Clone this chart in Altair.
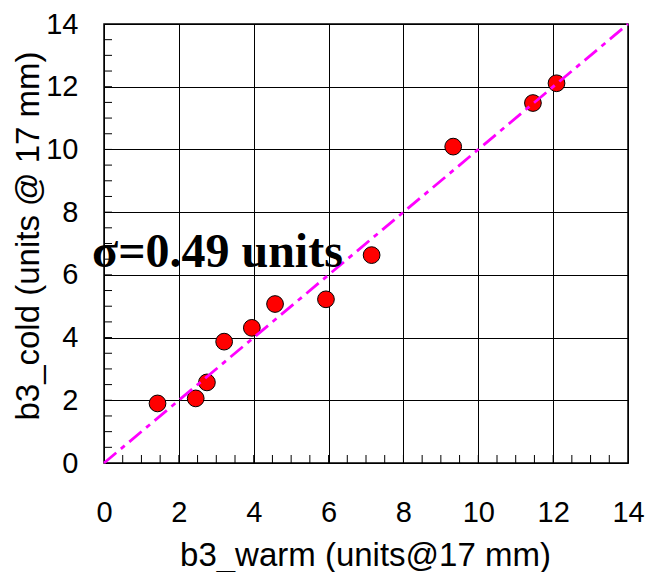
import altair as alt
import pandas as pd

# measured data
b3_warm = [1.43, 2.45, 2.75, 3.21, 3.95, 4.57, 5.93, 7.15, 9.33, 11.46, 12.09]
b3_cold = [1.90, 2.06, 2.57, 3.87, 4.31, 5.07, 5.22, 6.63, 10.09, 11.48, 12.11]

# y = x reference line
fit_x = [0, 14]
fit_y = [0, 14]

# axis ticks
major_ticks = [0, 2, 4, 6, 8, 10, 12, 14]
minor_ticks = [0.5, 1, 1.5, 2, 2.5, 3, 3.5, 4, 4.5, 5, 5.5, 6, 6.5, 7, 7.5,
               8, 8.5, 9, 9.5, 10, 10.5, 11, 11.5, 12, 12.5, 13, 13.5]

# annotation
note_text = ["σ=0.49 units"]
note_x = [-0.32]
note_y = [6.26]

W, H = 524, 439

pts = pd.DataFrame({"x": b3_warm, "y": b3_cold})
fit = pd.DataFrame({"x": fit_x, "y": fit_y})
ticks = pd.DataFrame({"x": minor_ticks, "y": minor_ticks})
note = pd.DataFrame({"x": note_x, "y": note_y, "t": note_text})

xs = alt.Scale(domain=[0, 14], nice=False, zero=False)
ys = alt.Scale(domain=[0, 14], nice=False, zero=False)

x_axis = alt.Axis(values=major_ticks, title="b3_warm (units@17 mm)",
                  labelPadding=35, labelFlush=False, titleX=W / 2 - 1, titleY=102,
                  titleBaseline="alphabetic")
y_axis = alt.Axis(values=major_ticks, title="b3_cold (units @ 17 mm)",
                  labelPadding=26, labelFlush=False, titleX=-66, titleY=H / 2 - 8,
                  titleAngle=270, titleBaseline="alphabetic")

X = alt.X("x:Q", scale=xs, axis=x_axis)
Y = alt.Y("y:Q", scale=ys, axis=y_axis)

points = alt.Chart(pts).mark_point(
    shape="circle", filled=True, fill="#FF0000", stroke="black",
    strokeWidth=1, size=280, opacity=1
).encode(x=X, y=Y)

line = alt.Chart(fit).mark_line(
    color="#FF00FF", strokeWidth=2.8, strokeDash=[16, 6, 5, 6]
).encode(x=X, y=Y)

xticks = alt.Chart(ticks).mark_rule(color="black", strokeWidth=1).encode(
    x=X,
    y=alt.value(H),
    y2=alt.value(H - 8),
)

yticks = alt.Chart(ticks).mark_rule(color="black", strokeWidth=1).encode(
    y=Y,
    x=alt.value(0),
    x2=alt.value(8),
)

text = alt.Chart(note).mark_text(
    font="Liberation Serif", fontWeight="bold", fontSize=48,
    align="left", baseline="alphabetic", color="black"
).encode(x=X, y=Y, text="t:N")

chart = alt.layer(xticks, yticks, points, line, text).properties(
    width=W, height=H,
    autosize=alt.AutoSizeParams(type="none"),
    padding={"left": 104, "top": 24, "right": 18, "bottom": 109},
    background="white",
).configure_view(
    stroke="black", strokeWidth=1.5
).configure_axis(
    grid=True, gridColor="black", gridWidth=1, gridOpacity=1,
    domain=False, ticks=False,
    labelFont="Liberation Sans", labelFontSize=29, labelColor="black",
    titleFont="Liberation Sans", titleFontSize=33, titleColor="black",
    titleFontWeight="normal",
)

chart.save("out.html", embed_options={"renderer": "svg", "actions": False})
